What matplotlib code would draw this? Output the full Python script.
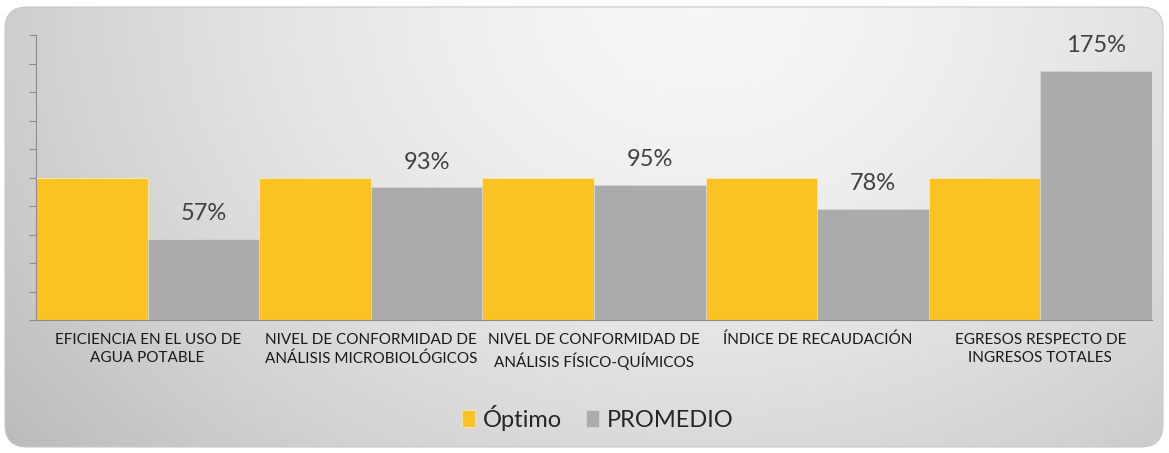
import numpy as np
import matplotlib
matplotlib.use("Agg")
import matplotlib.pyplot as plt
from matplotlib.patches import FancyBboxPatch

categories = [
    "EFICIENCIA EN EL USO DE\nAGUA POTABLE",
    "NIVEL DE CONFORMIDAD DE\nANÁLISIS MICROBIOLÓGICOS",
    "NIVEL DE CONFORMIDAD DE\nANÁLISIS FÍSICO-QUÍMICOS",
    "ÍNDICE DE RECAUDACIÓN",
    "EGRESOS RESPECTO DE\nINGRESOS TOTALES",
]
optimo = [100, 100, 100, 100, 100]
promedio = [57, 93, 95, 78, 175]
promedio_labels = ["57%", "93%", "95%", "78%", "175%"]
series_names = ["Óptimo", "PROMEDIO"]

YELLOW = "#FAC323"
GRAY = "#ABABAB"
FONT = ["Lato", "DejaVu Sans"]

W, H = 1169, 453
fig = plt.figure(figsize=(W / 100, H / 100), dpi=100)
fig.patch.set_facecolor("white")

# background gradient panel with rounded corners
bg_ax = fig.add_axes([0, 0, 1, 1], zorder=-10)
bg_ax.set_xlim(0, W)
bg_ax.set_ylim(H, 0)
bg_ax.axis("off")
xx = np.linspace(0, 1, 400)
yy = np.linspace(0, 1, 160)
X, Y = np.meshgrid(xx, yy)
d = np.sqrt(((X - 0.60) / 0.72) ** 2 + ((Y - 0.0) / 1.5) ** 2)
val = 0.965 - 0.21 * np.clip(d, 0, 1.2) ** 1.6
img = np.dstack([val, val, val])
x0, y0, x1, y1 = 5, 7, 1163, 447
im = bg_ax.imshow(img, extent=[x0, x1, y1, y0], aspect="auto", interpolation="bilinear")
panel = FancyBboxPatch((x0, y0), x1 - x0, y1 - y0,
                       boxstyle="round,pad=0,rounding_size=22",
                       facecolor="none", edgecolor="#c8c8c8", linewidth=0.8,
                       transform=bg_ax.transData)
bg_ax.add_patch(panel)
im.set_clip_path(panel)

# main axes
left, right, top, bottom = 36, 1152, 35, 320
ax = fig.add_axes([left / W, 1 - bottom / H, (right - left) / W, (bottom - top) / H])
ax.patch.set_alpha(0)

n = len(categories)
x = np.arange(n)
bw = 0.5
ax.bar(x - bw / 2, optimo, width=bw, color=YELLOW, edgecolor="#fbe9b0", linewidth=0.6,
       label=series_names[0])
bars = ax.bar(x + bw / 2, promedio, width=bw, color=GRAY, edgecolor="#d6d6d6", linewidth=0.6,
              label=series_names[1])
for b, lab in zip(bars, promedio_labels):
    ax.annotate(lab, (b.get_x() + b.get_width() / 2, b.get_height()),
                xytext=(0, 13.5), textcoords="offset points",
                ha="center", va="baseline", fontsize=17, color="#404040", family=FONT)

ax.set_xlim(-0.5, n - 0.5)
ax.set_ylim(0, 200)
ax.set_yticks(np.arange(0, 201, 20))
ax.set_yticklabels([])
ax.tick_params(axis="y", direction="out", length=5, color="#8c8c8c", width=0.8)
ax.set_xticks(x)
ax.set_xticklabels(categories, fontsize=11, color="#1a1a1a", family=FONT, linespacing=1.4)
ax.tick_params(axis="x", length=0, pad=9)
for s in ["top", "right"]:
    ax.spines[s].set_visible(False)
ax.spines["left"].set_color("#8c8c8c")
ax.spines["bottom"].set_color("#8c8c8c")
ax.spines["left"].set_linewidth(0.8)
ax.spines["bottom"].set_linewidth(0.8)

leg = fig.legend(loc="center", bbox_to_anchor=(598 / W, 1 - 418 / H), ncol=2,
                 frameon=False, prop={"family": FONT, "size": 17},
                 handlelength=0.55, handleheight=0.75, handletextpad=0.35, columnspacing=1.0)
for t in leg.get_texts():
    t.set_color("#262626")

fig.savefig("out.png", dpi=100)
